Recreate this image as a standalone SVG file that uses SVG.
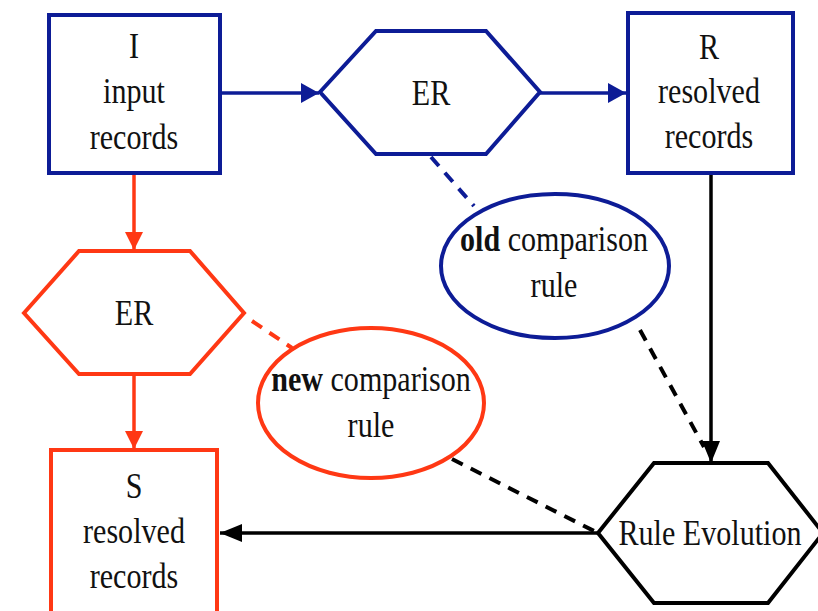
<svg xmlns="http://www.w3.org/2000/svg" width="818" height="611" viewBox="0 0 818 611">
<style>
.t{font-family:"Liberation Serif","Times New Roman",serif;font-size:35px;fill:#111;text-anchor:middle}
.b{font-weight:bold}
.blue{fill:#fff;stroke:#0d1c96;stroke-width:4}
.red{fill:#fff;stroke:#ff3814;stroke-width:4}
.blk{fill:#fff;stroke:#000;stroke-width:4}
.lb{stroke:#0d1c96;stroke-width:3.5;fill:none}
.lr{stroke:#ff3814;stroke-width:3.5;fill:none}
.lk{stroke:#000;stroke-width:3.5;fill:none}
.d{stroke-dasharray:12 9;stroke-width:4}
</style>
<defs>
<marker id="ab" markerUnits="userSpaceOnUse" markerWidth="20" markerHeight="22" refX="18" refY="10" orient="auto"><path d="M0,0 L18,10 L0,20 z" fill="#0d1c96"/></marker>
<marker id="ar" markerUnits="userSpaceOnUse" markerWidth="20" markerHeight="22" refX="18" refY="9" orient="auto"><path d="M0,0 L18,9 L0,18 z" fill="#ff3814"/></marker>
<marker id="ak" markerUnits="userSpaceOnUse" markerWidth="24" markerHeight="22" refX="22" refY="9" orient="auto"><path d="M0,0 L22,9 L0,18 z" fill="#000"/></marker>
</defs>
<g id="connectors">
<line class="lb" x1="221" y1="93" x2="319" y2="93" marker-end="url(#ab)"/>
<line class="lb" x1="540" y1="93" x2="626" y2="93" marker-end="url(#ab)"/>
<line class="lb d" x1="431" y1="157" x2="474" y2="206"/>
<line class="lr" x1="134" y1="174" x2="134" y2="250" marker-end="url(#ar)"/>
<line class="lr" x1="134" y1="376" x2="134" y2="449" marker-end="url(#ar)"/>
<line class="lr d" x1="252" y1="321" x2="292" y2="348"/>
<line class="lk" x1="711" y1="174" x2="711" y2="463" marker-end="url(#ak)"/>
<line class="lk d" x1="640" y1="330" x2="704" y2="447"/>
<line class="lk" x1="598" y1="533" x2="220" y2="533" marker-end="url(#ak)"/>
<line class="lk d" x1="452" y1="459" x2="596" y2="532"/>
</g>
<g id="node-I">
<rect class="blue" x="49" y="15" width="171" height="158"/>
<text class="t" transform="translate(134,58) scale(0.86,1)">I</text>
<text class="t" transform="translate(134,103) scale(0.86,1)">input</text>
<text class="t" transform="translate(134,149) scale(0.86,1)">records</text>
</g>
<g id="node-ER1">
<polygon class="blue" points="320,92 376,31 486,31 540,92 486,154 376,154"/>
<text class="t" transform="translate(431,105) scale(0.86,1)">ER</text>
</g>
<g id="node-R">
<rect class="blue" x="628" y="13" width="165" height="160"/>
<text class="t" transform="translate(709,59) scale(0.86,1)">R</text>
<text class="t" transform="translate(709,103) scale(0.86,1)">resolved</text>
<text class="t" transform="translate(709,148) scale(0.86,1)">records</text>
</g>
<g id="node-old">
<ellipse class="blue" cx="555" cy="266" rx="114" ry="72"/>
<text class="t" transform="translate(554,251) scale(0.86,1)"><tspan class="b">old</tspan> comparison</text>
<text class="t" transform="translate(554,297) scale(0.86,1)">rule</text>
</g>
<g id="node-ER2">
<polygon class="red" points="24,313 79,251 190,251 244,313 190,374 79,374"/>
<text class="t" transform="translate(134,325) scale(0.86,1)">ER</text>
</g>
<g id="node-new">
<ellipse class="red" cx="371" cy="403" rx="113" ry="75"/>
<text class="t" transform="translate(371,391) scale(0.86,1)"><tspan class="b">new</tspan> comparison</text>
<text class="t" transform="translate(371,437) scale(0.86,1)">rule</text>
</g>
<g id="node-S">
<rect class="red" x="51" y="450" width="166" height="200"/>
<text class="t" transform="translate(134,498) scale(0.86,1)">S</text>
<text class="t" transform="translate(134,543) scale(0.86,1)">resolved</text>
<text class="t" transform="translate(134,588) scale(0.86,1)">records</text>
</g>
<g id="node-RuleEvolution">
<polygon class="blk" points="598,533 654,463 768,463 823,533 768,603 654,603"/>
<text class="t" transform="translate(710,545) scale(0.86,1)">Rule Evolution</text>
</g>
</svg>
